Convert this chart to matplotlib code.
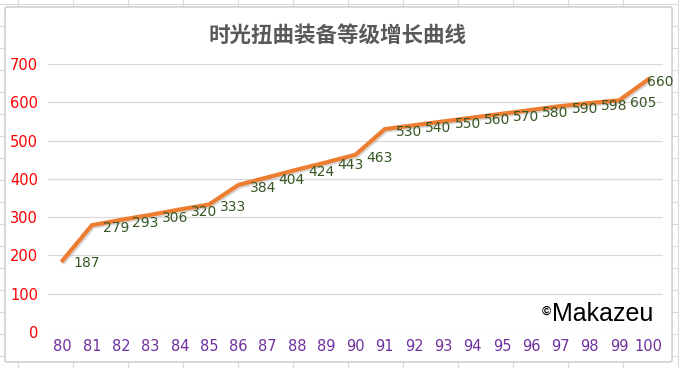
import matplotlib
matplotlib.use("Agg")
import matplotlib.pyplot as plt
import matplotlib.patheffects as pe
from matplotlib.patches import FancyBboxPatch

plt.rcParams["font.family"] = ["Noto Sans CJK SC", "DejaVu Sans"]

# ------------------------------------------------------------------
# Data
# ------------------------------------------------------------------
levels = [str(v) for v in range(80, 101)]
item_level = [187, 279, 293, 306, 320, 333, 384, 404, 424, 443, 463,
              530, 540, 550, 560, 570, 580, 590, 598, 605, 660]
y_ticks = [0, 100, 200, 300, 400, 500, 600, 700]

TITLE = "时光扭曲装备等级增长曲线"
ORANGE = "#ED7D31"
GREEN = "#375623"
PURPLE = "#7030A0"
NUM_FONT = "DejaVu Sans"

W, H = 679, 368
fig = plt.figure(figsize=(W / 100, H / 100), dpi=100)
fig.patch.set_facecolor("white")

# spreadsheet cells behind the chart object
for x in range(18, W, 55):
    fig.add_artist(plt.Line2D([x / W, x / W], [0, 1], color="#DADADA", lw=0.8, zorder=-3))
for y in range(4, H, 22):
    fig.add_artist(plt.Line2D([0, 1], [1 - y / H, 1 - y / H], color="#DADADA", lw=0.8, zorder=-3))

frame = FancyBboxPatch((5 / W, 6 / H), 667 / W, 355 / H,
                       boxstyle="round,pad=0,rounding_size=0.004",
                       transform=fig.transFigure, facecolor="white",
                       edgecolor="#C8C8C8", lw=1.0, zorder=-2)
fig.add_artist(frame)

ax = fig.add_axes([48 / W, (H - 332) / H, 615 / W, 268 / H])
ax.set_facecolor("none")

x = list(range(len(levels)))
ax.plot(x, item_level, color=ORANGE, lw=3.0, solid_joinstyle="miter",
        path_effects=[pe.SimpleLineShadow(offset=(1.0, -1.2), shadow_color="#808080", alpha=0.3),
                      pe.Normal()], zorder=3)

for i, v in enumerate(item_level):
    dx = 8 if i < len(item_level) - 1 else -1
    ax.annotate(str(v), (i, v), xytext=(dx, -2), textcoords="offset points",
                ha="left", va="center", fontsize=10, color=GREEN, zorder=4,
                family=NUM_FONT, annotation_clip=False)

ax.set_xlim(-0.5, len(levels) - 0.5)
ax.set_ylim(0, 700)
ax.set_yticks(y_ticks)
ax.set_xticks(x)
ax.set_xticklabels(levels)
ax.grid(axis="y", color="#D9D9D9", lw=0.9)
ax.set_axisbelow(True)
for s in ax.spines.values():
    s.set_visible(False)
ax.tick_params(axis="both", length=0, labelsize=10.5)
ax.tick_params(axis="y", colors="#FF0000", pad=7)
ax.tick_params(axis="x", colors=PURPLE, pad=5)
for lab in ax.get_xticklabels() + ax.get_yticklabels():
    lab.set_family(NUM_FONT)

fig.text(338 / W, 1 - 35 / H, TITLE, ha="center", va="center",
         fontsize=15.5, fontweight="bold", color="#595959")

fig.text(542 / W, 1 - 312 / H, "©", ha="left", va="center", fontsize=9,
         fontweight="bold", color="black", family="Liberation Sans")
fig.text(552 / W, 1 - 314 / H, "Makazeu", ha="left", va="center", fontsize=18,
         color="black", family="Liberation Sans")

fig.savefig("out.png", dpi=100)
